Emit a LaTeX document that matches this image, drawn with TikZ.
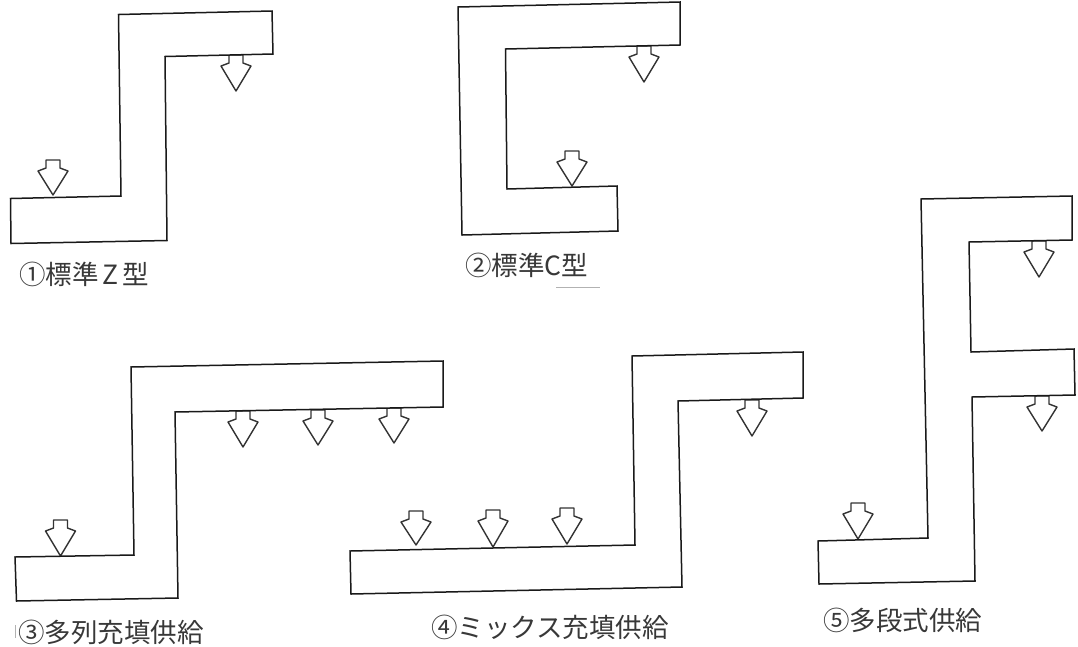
\documentclass[tikz,border=0pt]{standalone}
\usepackage{fontspec}
\setmainfont{Noto Sans CJK JP}
\tikzset{
  duct/.style={draw=black!90,line width=1.5pt,line join=miter,fill=white},
  feedarrow/.style={draw=black!80,line width=1.4pt,line join=round,fill=white},
  caption/.style={anchor=west,inner sep=0pt,text=black!78,font=\fontsize{26.5}{30}\selectfont},
  scanmark/.style={draw=black!30,line width=1pt}
}
% x of axis, y of top, y of tip
\newcommand{\feedarrowat}[3]{%
  \draw[feedarrow] (#1-7,#2) -- (#1+7,#2) -- (#1+7,#2+8) -- (#1+15,#2+11) -- (#1,#3)
    -- (#1-15,#2+11) -- (#1-7,#2+8) -- cycle;}
\begin{document}
\begin{tikzpicture}[x=1pt,y=-1pt]
\useasboundingbox (0,0) rectangle (1078,646);
% 1
\feedarrowat{236}{55}{91}
\feedarrowat{53}{160}{195}
\draw[duct] (118.5,14.5) -- (272,11) -- (273,54) -- (165,56.5) -- (167,240.5) -- (11,243.5) -- (10.5,198.5) -- (121,196) -- cycle;
% 2
\feedarrowat{644}{46}{82}
\feedarrowat{572}{151}{186}
\draw[duct] (458,7) -- (680,2) -- (680,45) -- (505.5,49) -- (507,189) -- (617,186) -- (618,231) -- (462,235) -- cycle;
% 3
\feedarrowat{243}{411}{447}
\feedarrowat{318}{410}{445}
\feedarrowat{394}{408}{443}
\feedarrowat{60.5}{520}{556}
\draw[duct] (131,367) -- (443,361) -- (443,407) -- (175,412) -- (178,598) -- (16.5,601) -- (15,557) -- (134,555) -- cycle;
% 4
\feedarrowat{752}{400}{436}
\feedarrowat{416}{511}{545}
\feedarrowat{493}{510}{547}
\feedarrowat{567}{508}{544}
\draw[duct] (632,356) -- (803,352) -- (803,398) -- (678,401) -- (682,587) -- (351,594) -- (350,551) -- (635,545) -- cycle;
% 5
\feedarrowat{1039}{241}{277}
\feedarrowat{1042}{396}{431}
\feedarrowat{858}{503}{539}
\draw[duct] (921,199) -- (1072,196) -- (1072,240) -- (969,242) -- (971,352) -- (1074,349) -- (1075,395) -- (972,397) -- (975,581) -- (819,584) -- (818,541) -- (928,538) -- cycle;
% captions
\node[caption] (c1) at (19,274) {①標準\hspace{4pt}Z\hspace{4pt}型};
\node[caption] (c2) at (465,265) {②標準C型};
\node[caption] (c3) at (18,632) {③多列充填供給};
\node[caption] (c4) at (431,627) {④ミックス充填供給};
\node[caption] (c5) at (823,620) {⑤多段式供給};
% scan marks
\draw[scanmark] (556,287) -- (600,287);
\draw[scanmark] (15,625) -- (15,638);
\end{tikzpicture}
\end{document}
